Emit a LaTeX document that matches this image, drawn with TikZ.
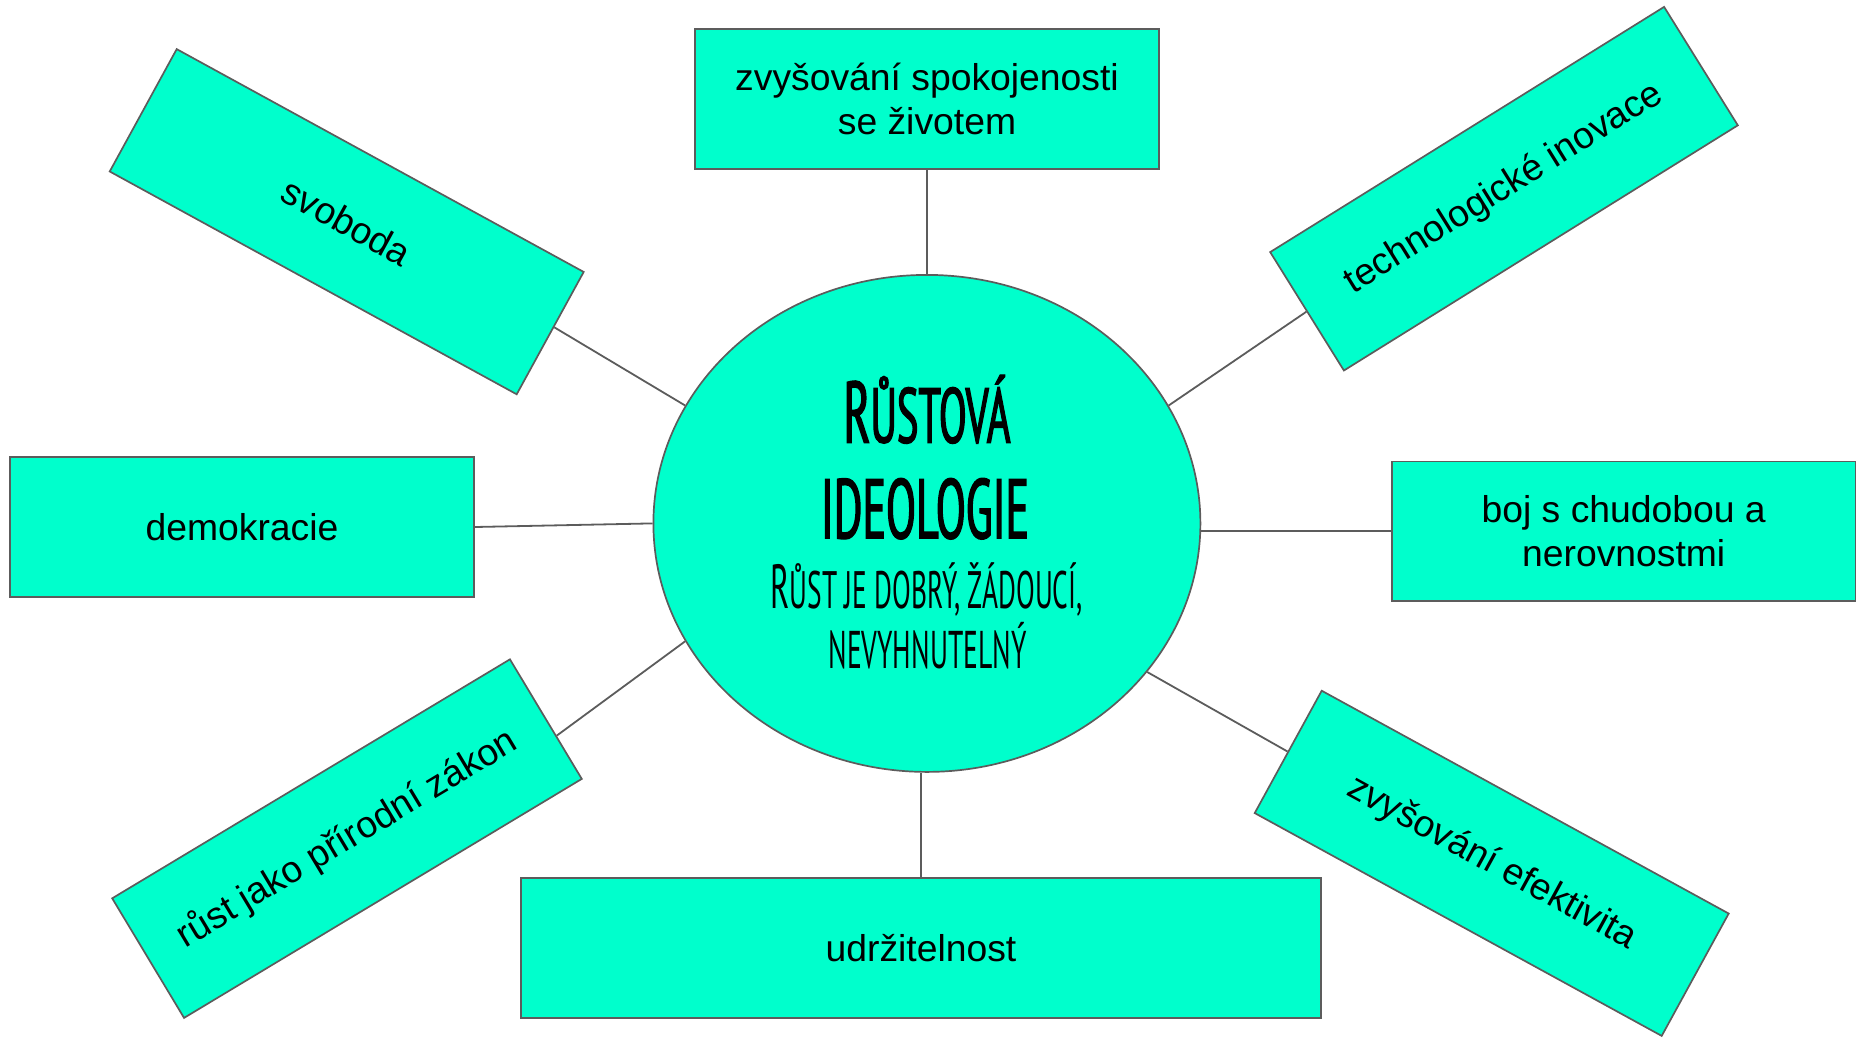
\documentclass[tikz,border=0pt]{standalone}
\usepackage{graphicx}
\usepackage{fontspec}
\setmainfont{Liberation Sans}
\newfontfamily\amfont[FakeStretch=0.52]{PT Sans}
\newfontfamily\amfontb[FakeStretch=0.52,FakeBold=1.6]{PT Sans}
\usetikzlibrary{shapes.geometric,calc}
\definecolor{aqua}{RGB}{0,255,204}
\definecolor{edge}{RGB}{92,92,92}
\begin{document}
\begin{tikzpicture}[x=1pt,y=-1pt,
  box/.style={draw=edge,line width=1.7pt,fill=aqua,minimum width=464pt,minimum height=139.5pt,
    inner sep=0pt,align=center,font=\fontsize{37.3}{43.3}\selectfont},
  link/.style={draw=edge,line width=1.8pt},
  txt/.style={anchor=base,inner sep=0pt}]
\useasboundingbox (0,0) rectangle (1856,1037);

% central ellipse
\node[draw=edge,line width=1.7pt,fill=aqua,ellipse,minimum width=547pt,minimum height=497pt,inner sep=0pt] (c) at (926.9,523.4) {};

% boxes
\node[box] (top) at (927,99) {zvyšování spokojenosti\\se životem};
\node[box] (demo) at (242,527) {demokracie};
\node[box] (boj) at (1623.7,531.3) {boj s chudobou a\\nerovnostmi};
\node[box,minimum width=800pt] (udr) at (921,948) {udržitelnost};
\node[box,rotate=-28.7] (svo) at (346.7,221.7) {svoboda};
\node[box,rotate=31.9] (tech) at (1504,188.7) {technologické inovace};
\node[box,rotate=31] (rust) at (347,838.6) {růst jako přírodní zákon};
\node[box,rotate=-28.7] (efe) at (1491.7,863.3) {zvyšování efektivita};

% central text
\node[txt] (t1) at (927,442.7) {\resizebox{167pt}{!}{\amfontb{\fontsize{80}{80}\selectfont R}\fontsize{71.4}{72}\selectfont ŮSTOVÁ}};
\node[txt] (t2) at (925,538.3) {\resizebox{208pt}{!}{\amfontb\fontsize{71.4}{72}\selectfont IDEOLOGIE}};
\node[txt] (t3) at (926.7,608.3) {\resizebox{312pt}{!}{\amfont{\fontsize{52}{52}\selectfont R}\fontsize{44}{44}\selectfont ŮST JE DOBRÝ, ŽÁDOUCÍ,}};
\node[txt] (t4) at (927.5,668.3) {\resizebox{198pt}{!}{\amfont\fontsize{44}{44}\selectfont NEVYHNUTELNÝ}};

% connectors
\draw[link] (top.south) -- (c.north);
\draw[link] (udr.north) -- (udr.north |- c.south);
\draw[link] (demo.east) -- (c.west);
\draw[link] (boj.west) -- (boj.west -| c.east);
\draw[link] ($(svo.east)!0.1!(svo.north east)$) -- (c.154.4);
\draw[link] (tech.west) -- (c.26.2);
\draw[link] ($(rust.east)!0.28!(rust.south east)$) -- (c.206.4);
\draw[link] (efe.west) -- (c.326.6);
\end{tikzpicture}
\end{document}
